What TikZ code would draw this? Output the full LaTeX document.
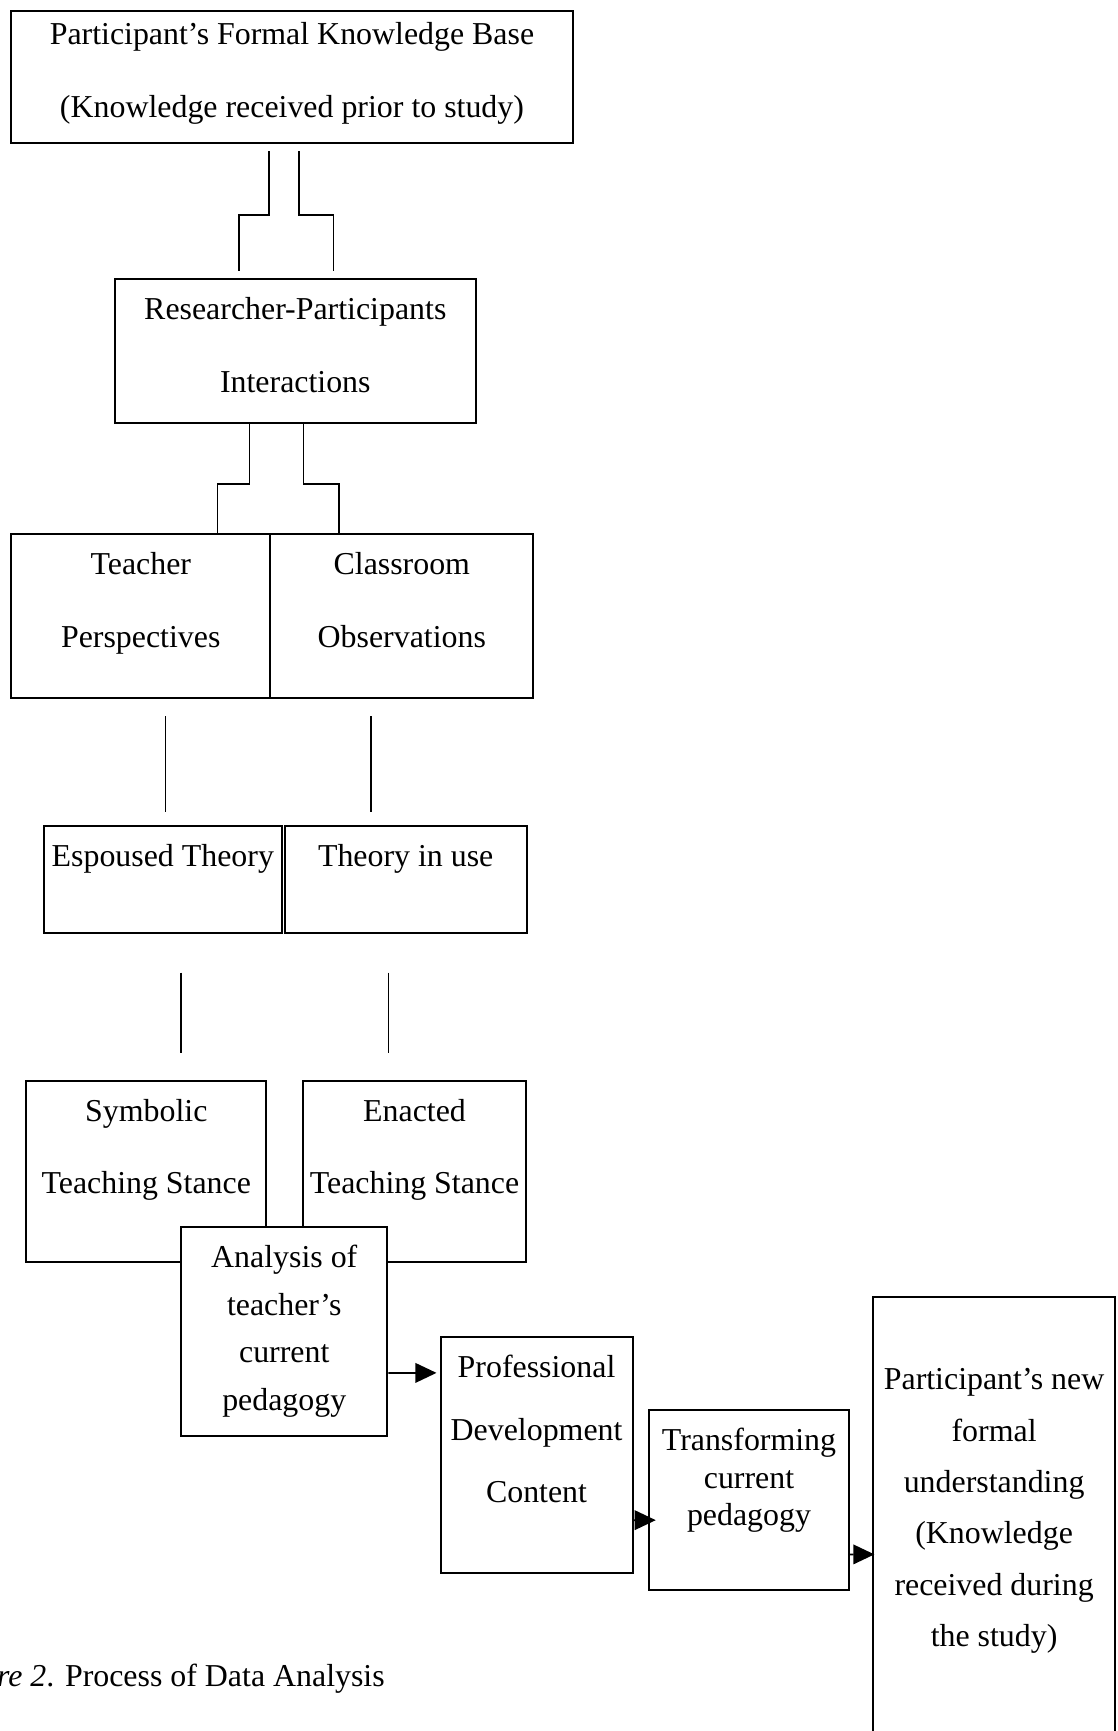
\documentclass[tikz,border=0pt]{standalone}
\usepackage{fontspec}
\setmainfont{Liberation Serif}
\usepackage{tikz}
\usetikzlibrary{calc,arrows.meta,positioning}
\definecolor{ink}{HTML}{000000}
\definecolor{paper}{HTML}{FFFFFF}
\tikzset{
  box/.style={draw=ink, line width=0.75pt, fill=paper, inner sep=0pt},
  lbl/.style={inner sep=0pt, align=center, text=ink, font=\fontsize{12}{27.3}\selectfont},
  link/.style={draw=ink, line width=0.65pt},
  arr/.style={link, -{Triangle[length=2.8mm,width=2.6mm]}}
}

\begin{document}
\begin{tikzpicture}
\useasboundingbox (0,0) rectangle (14.777,-22.896);
\clip (0,0) rectangle (14.777,-22.896);
% upper column
\node[box, minimum width=7.43cm, minimum height=1.74cm] (kbase) at (3.862,-1.015) {};
\node[lbl, below=0.16cm of kbase.north] (kbasetxt) {Participant’s Formal Knowledge Base\\(Knowledge received prior to study)};
\node[box, minimum width=4.78cm, minimum height=1.90cm] (rpi) at (3.906,-4.643) {};
\node[lbl, below=0.25cm of rpi.north] (rpitxt) {Researcher-Participants\\Interactions};
\node[box, minimum width=3.43cm, minimum height=2.16cm] (tp) at (1.862,-8.148) {};
\node[lbl, below=0.25cm of tp.north] (tptxt) {Teacher\\Perspectives};
\node[box, minimum width=3.48cm, minimum height=2.16cm] (co) at (5.315,-8.148) {};
\node[lbl, below=0.25cm of co.north] (cotxt) {Classroom\\Observations};
\node[box, minimum width=3.14cm, minimum height=1.42cm] (et) at (2.154,-11.630) {};
\node[lbl, below=0.25cm of et.north] (ettxt) {Espoused Theory};
\node[box, minimum width=3.20cm, minimum height=1.42cm] (tu) at (5.366,-11.630) {};
\node[lbl, below=0.25cm of tu.north] (tutxt) {Theory in use};
\node[box, minimum width=3.17cm, minimum height=2.40cm] (sts) at (1.935,-15.493) {};
\node[lbl, below=0.25cm of sts.north] (ststxt) {Symbolic\\Teaching Stance};
\node[box, minimum width=2.96cm, minimum height=2.40cm] (ets) at (5.483,-15.493) {};
\node[lbl, below=0.25cm of ets.north] (etstxt) {Enacted\\Teaching Stance};
% lower row
\node[box, minimum width=2.73cm, minimum height=2.77cm] (acp) at (3.760,-17.610) {};
\node[lbl, below=0.25cm of acp.north, font=\fontsize{12}{17.9}\selectfont] (acptxt) {Analysis of\\teacher’s\\current\\pedagogy};
\node[box, minimum width=2.54cm, minimum height=3.13cm] (pdc) at (7.097,-19.245) {};
\node[lbl, below=0.25cm of pdc.north, font=\fontsize{12}{23.5}\selectfont] (pdctxt) {Professional\\Development\\Content};
\node[box, minimum width=2.64cm, minimum height=2.38cm] (tcp) at (9.907,-19.837) {};
\node[lbl, below=0.25cm of tcp.north, font=\fontsize{12}{14.1}\selectfont] (tcptxt) {Transforming\\current\\pedagogy};
\node[box, minimum width=3.20cm, minimum height=6.34cm] (pnu) at (13.149,-20.33) {};
\node[lbl, below=0.95cm of pnu.north, font=\fontsize{12}{19.3}\selectfont] (pnutxt) {Participant’s new\\formal\\understanding\\(Knowledge\\received during\\the study)};
% connectors
\draw[link] ([xshift=-0.30cm,yshift=-0.10cm]kbase.south) -- ++(0,-0.85) -| ([xshift=-0.74cm,yshift=0.10cm]rpi.north);
\draw[link] ([xshift=0.095cm,yshift=-0.10cm]kbase.south) -- ++(0,-0.85) -| ([xshift=0.504cm,yshift=0.10cm]rpi.north);
\draw[link] ([xshift=-0.606cm]rpi.south) -- ++(0,-0.80) -| ([xshift=1.015cm]tp.north);
\draw[link] ([xshift=0.11cm]rpi.south) -- ++(0,-0.80) -| ([xshift=-0.832cm]co.north);
\foreach \a/\b/\dx/\ga/\gb in {tp/et/0.036/0.234/0.16, co/tu/-0.46/0.234/0.16, et/sts/0.46/0.511/0.35, tu/ets/-0.343/0.511/0.35}
  \draw[link] ($(\a.south -| \b.north)+(\dx,-\ga)$) -- ($(\b.north)+(\dx,\gb)$);
\draw[arr] ([yshift=-0.55cm]acp.east) -- ([yshift=1.086cm,xshift=-0.04cm]pdc.west);
\draw[arr] ([yshift=-0.862cm]pdc.east) -- ([yshift=-0.27cm,xshift=0.10cm]tcp.west);
\draw[arr] ([yshift=-0.723cm]tcp.east) -- ([yshift=-0.23cm,xshift=0.03cm]pnu.west);
\node[lbl, anchor=base east, font=\fontsize{12}{14}\selectfont] (cap) at (5.096,-22.31) {\textit{Figure 2}. Process of Data Analysis};
\end{tikzpicture}
\end{document}
